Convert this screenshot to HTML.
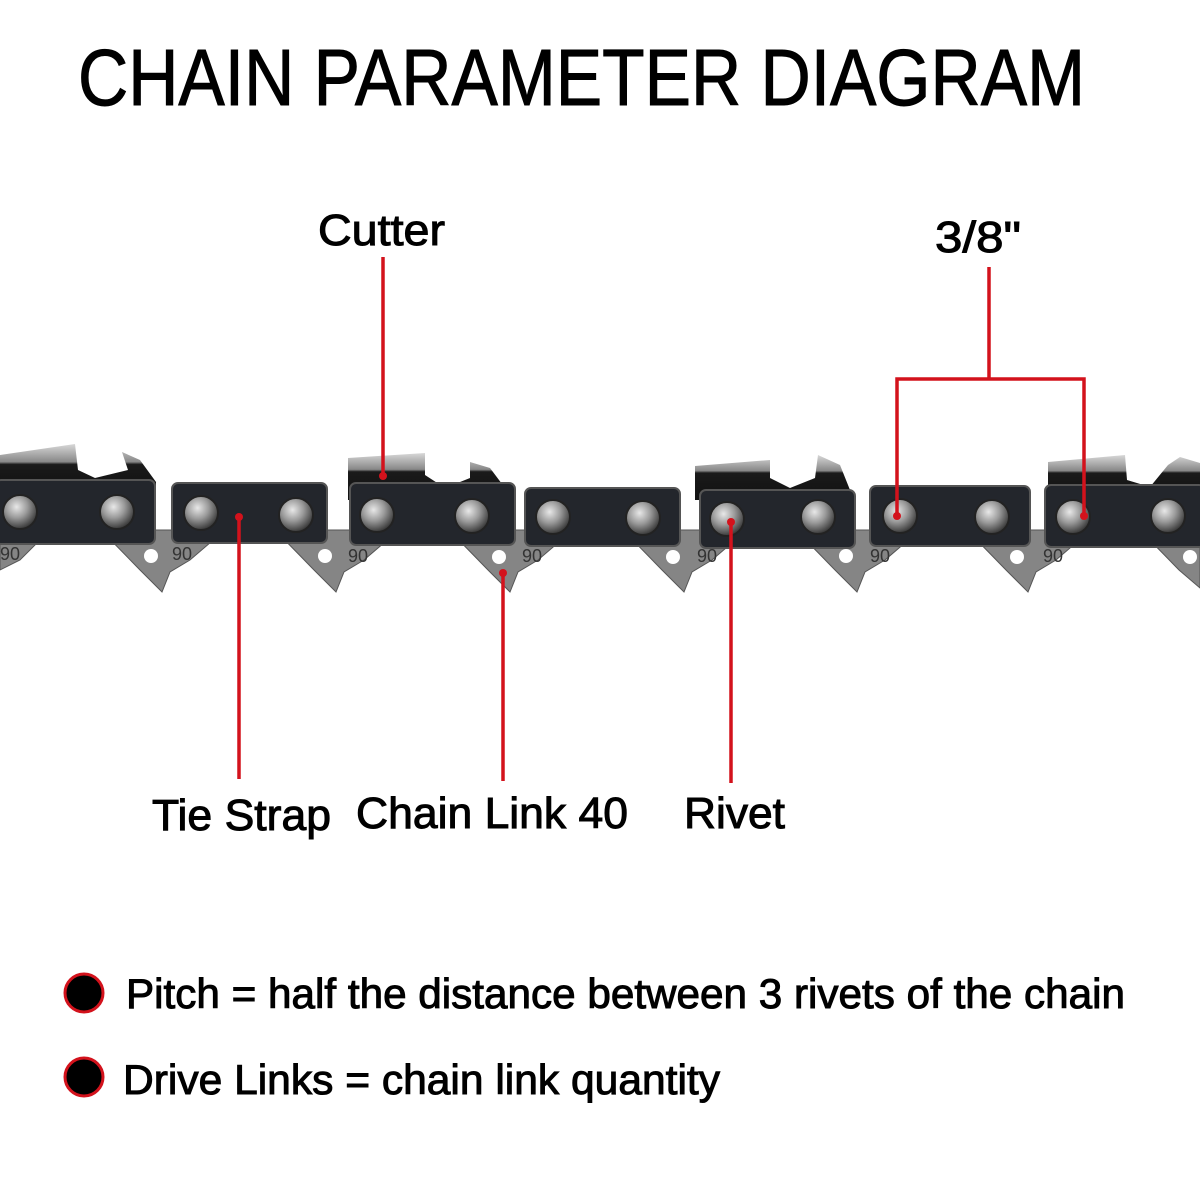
<!DOCTYPE html>
<html><head><meta charset="utf-8"><style>
html,body{margin:0;padding:0;background:#fff;width:1200px;height:1200px;overflow:hidden}
text{font-family:"Liberation Sans",sans-serif;fill:#000}
.t{stroke:#000;stroke-width:1}
</style></head><body>
<svg width="1200" height="1200" viewBox="0 0 1200 1200" xmlns="http://www.w3.org/2000/svg">
<defs>
<radialGradient id="rv" cx="40%" cy="35%" r="65%">
<stop offset="0" stop-color="#e8e8e8"/><stop offset="0.5" stop-color="#9a9a9a"/><stop offset="1" stop-color="#3a3a3a"/>
</radialGradient>
<linearGradient id="cut" x1="0" y1="0" x2="0" y2="1">
<stop offset="0" stop-color="#d8d8d8"/><stop offset="0.35" stop-color="#888"/><stop offset="0.4" stop-color="#1a1a1a"/><stop offset="1" stop-color="#111"/>
</linearGradient>
</defs>
<rect width="1200" height="1200" fill="#fff"/>
<text class="t" x="78" y="105" font-size="80" textLength="1007" lengthAdjust="spacingAndGlyphs">CHAIN PARAMETER DIAGRAM</text>

<g fill="#858585" stroke="#555" stroke-width="1">
<polygon points="101,530 140,570 162,592 170,572 190,560 225,530"/>
<polygon points="275,530 314,570 336,592 344,572 364,560 399,530"/>
<polygon points="449,530 488,570 510,592 518,572 538,560 573,530"/>
<polygon points="623,530 662,570 684,592 692,572 712,560 747,530"/>
<polygon points="796,530 835,570 857,592 865,572 885,560 920,530"/>
<polygon points="967,530 1006,570 1028,592 1036,572 1056,560 1091,530"/>
<polygon points="1140,530 1179,570 1200,588 1200,530"/>
<polygon points="0,530 0,570 20,560 50,530"/>
</g>
<g fill="#fff">
<circle cx="151" cy="556" r="7"/><circle cx="325" cy="556" r="7"/><circle cx="499" cy="557" r="7"/>
<circle cx="673" cy="557" r="7"/><circle cx="846" cy="556" r="7"/><circle cx="1017" cy="557" r="7"/><circle cx="1190" cy="557" r="7"/>
</g>
<g font-size="18">
<text x="0" y="560" style="fill:#333">90</text><text x="172" y="560" style="fill:#333">90</text>
<text x="348" y="562" style="fill:#333">90</text><text x="522" y="562" style="fill:#333">90</text>
<text x="697" y="562" style="fill:#333">90</text><text x="870" y="562" style="fill:#333">90</text><text x="1043" y="562" style="fill:#333">90</text>
</g>

<g fill="url(#cut)">
<polygon points="0,455 75,444 78,470 95,478 128,470 122,452 140,460 156,482 156,495 0,495"/>
<polygon points="348,458 425,453 425,475 445,488 470,478 470,462 490,468 505,488 510,500 348,500"/>
<polygon points="695,466 770,460 770,478 790,488 815,478 818,455 840,465 850,490 852,500 695,500"/>
<polygon points="1048,462 1125,455 1127,480 1150,487 1168,465 1180,457 1200,463 1200,500 1048,500"/>
</g>
<g fill="#23262c" stroke="#555" stroke-width="2">
<rect x="-5" y="480" width="160" height="64" rx="6"/>
<rect x="172" y="483" width="155" height="60" rx="6"/>
<rect x="350" y="483" width="165" height="62" rx="6"/>
<rect x="525" y="488" width="155" height="58" rx="6"/>
<rect x="700" y="490" width="155" height="58" rx="6"/>
<rect x="870" y="486" width="160" height="60" rx="6"/>
<rect x="1045" y="485" width="160" height="62" rx="6"/>
</g>
<g fill="url(#rv)" stroke="#222" stroke-width="2">
<circle cx="20" cy="512" r="17"/><circle cx="117" cy="512" r="17"/>
<circle cx="201" cy="513" r="17"/><circle cx="296" cy="515" r="17"/>
<circle cx="377" cy="515" r="17"/><circle cx="472" cy="516" r="17"/>
<circle cx="553" cy="517" r="17"/><circle cx="643" cy="518" r="17"/>
<circle cx="727" cy="519" r="17"/><circle cx="818" cy="517" r="17"/>
<circle cx="900" cy="516" r="17"/><circle cx="992" cy="517" r="17"/>
<circle cx="1073" cy="517" r="17"/><circle cx="1168" cy="516" r="17"/>
</g>

<g stroke="#d3121c" stroke-width="3.5" fill="none">
<line x1="383" y1="257" x2="383" y2="475"/>
<line x1="239" y1="517" x2="239" y2="779"/>
<line x1="503" y1="573" x2="503" y2="781"/>
<line x1="731" y1="522" x2="731" y2="783"/>
<line x1="989" y1="267" x2="989" y2="378"/>
<polyline points="897,516 897,379 1084,379 1084,516"/>
</g>
<g fill="#d3121c">
<circle cx="383" cy="476" r="4"/><circle cx="239" cy="517" r="4"/><circle cx="503" cy="573" r="4"/>
<circle cx="731" cy="522" r="4"/><circle cx="897" cy="516" r="4"/><circle cx="1084" cy="516" r="4"/>
</g>

<g font-size="44" class="t">
<text x="318" y="245" textLength="127" lengthAdjust="spacingAndGlyphs">Cutter</text>
<text x="935" y="252" textLength="86" lengthAdjust="spacingAndGlyphs">3/8"</text>
<text x="152" y="830" textLength="179" lengthAdjust="spacingAndGlyphs">Tie Strap</text>
<text x="356" y="828" textLength="272" lengthAdjust="spacingAndGlyphs">Chain Link 40</text>
<text x="684" y="828" textLength="101" lengthAdjust="spacingAndGlyphs">Rivet</text>
</g>

<circle cx="84" cy="993" r="19" fill="#000" stroke="#d3121c" stroke-width="3"/>
<circle cx="84" cy="1077" r="19" fill="#000" stroke="#d3121c" stroke-width="3"/>
<g font-size="42" class="t">
<text x="126" y="1008" textLength="999" lengthAdjust="spacingAndGlyphs">Pitch = half the distance between 3 rivets of the chain</text>
<text x="123" y="1094" textLength="597" lengthAdjust="spacingAndGlyphs">Drive Links = chain link quantity</text>
</g>
</svg>
</body></html>
